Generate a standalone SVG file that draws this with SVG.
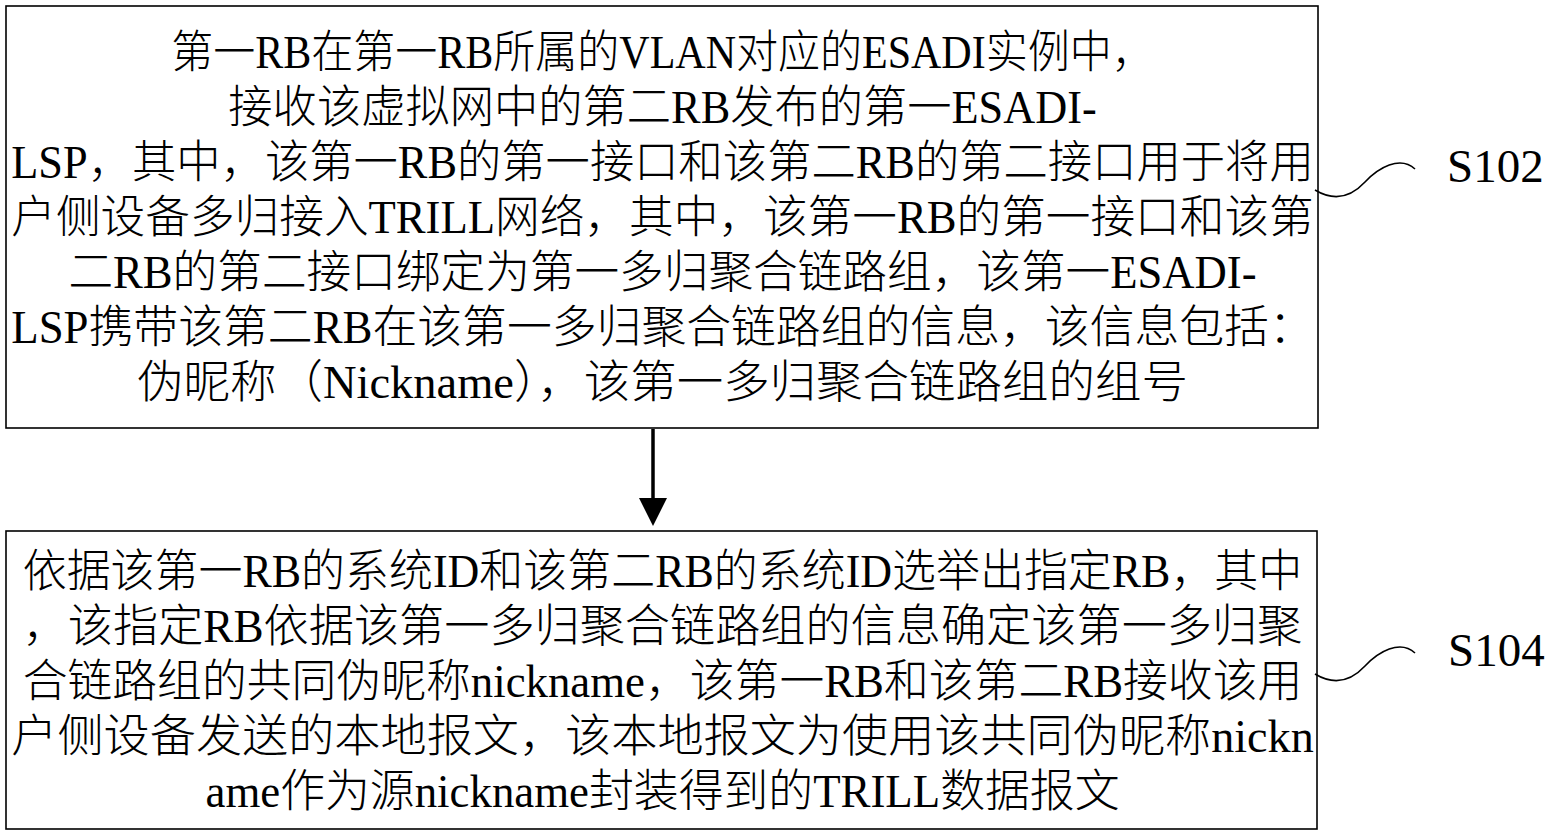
<svg xmlns="http://www.w3.org/2000/svg" width="1550" height="835" viewBox="0 0 1550 835">
<style>
.box{fill:#fff;stroke:#000;stroke-width:1.6}
.t{font-family:"Liberation Serif","Noto Sans CJK SC",serif;font-size:45.7px;font-weight:300;fill:#000}
.lbl{font-family:"Liberation Serif","Times New Roman",serif;font-size:47px;fill:#000}
.wave{fill:none;stroke:#000;stroke-width:1.6}
.arr{stroke:#000;stroke-width:3.5;fill:none}
</style>
<rect width="1550" height="835" fill="#fff"/>
<g id="node-s102-box">
<rect class="box" x="6" y="6" width="1312" height="422"/>
<text class="t" x="171.2" y="68.4" textLength="982.55" lengthAdjust="spacingAndGlyphs">第一RB在第一RB所属的VLAN对应的ESADI实例中，</text>
<text class="t" x="228.35" y="123.4" textLength="868.3" lengthAdjust="spacingAndGlyphs">接收该虚拟网中的第二RB发布的第一ESADI-</text>
<text class="t" x="11.3" y="178.4" textLength="1302.45" lengthAdjust="spacingAndGlyphs">LSP，其中，该第一RB的第一接口和该第二RB的第二接口用于将用</text>
<text class="t" x="11.3" y="233.4" textLength="1302.45" lengthAdjust="spacingAndGlyphs">户侧设备多归接入TRILL网络，其中，该第一RB的第一接口和该第</text>
<text class="t" x="68.4" y="288.4" textLength="1188.2" lengthAdjust="spacingAndGlyphs">二RB的第二接口绑定为第一多归聚合链路组，该第一ESADI-</text>
<text class="t" x="11.3" y="343.4" textLength="1302.45" lengthAdjust="spacingAndGlyphs">LSP携带该第二RB在该第一多归聚合链路组的信息，该信息包括：</text>
<text class="t" x="136.95" y="398.4" textLength="1051.1" lengthAdjust="spacingAndGlyphs">伪昵称（Nickname），该第一多归聚合链路组的组号</text>
</g>
<g id="node-s104-box">
<rect class="box" x="6" y="531" width="1311" height="298"/>
<text class="t" x="22.7" y="587.4" textLength="1279.6" lengthAdjust="spacingAndGlyphs">依据该第一RB的系统ID和该第二RB的系统ID选举出指定RB，其中</text>
<text class="t" x="22.7" y="642.4" textLength="1279.6" lengthAdjust="spacingAndGlyphs">，该指定RB依据该第一多归聚合链路组的信息确定该第一多归聚</text>
<text class="t" x="22.7" y="697.4" textLength="1279.6" lengthAdjust="spacingAndGlyphs">合链路组的共同伪昵称nickname，该第一RB和该第二RB接收该用</text>
<text class="t" x="11.3" y="752.4" textLength="1302.45" lengthAdjust="spacingAndGlyphs">户侧设备发送的本地报文，该本地报文为使用该共同伪昵称nickn</text>
<text class="t" x="205.5" y="807.4" textLength="914" lengthAdjust="spacingAndGlyphs">ame作为源nickname封装得到的TRILL数据报文</text>
</g>
<g id="node-s102-label">
<text class="lbl" x="1447" y="182">S102</text>
</g>
<g id="node-s104-label">
<text class="lbl" x="1448" y="666">S104</text>
</g>
<g id="connectors">
<line class="arr" x1="653" y1="429" x2="653" y2="500"/>
<polygon points="639,498 667,498 653,526" fill="#000"/>
<path class="wave" d="M1315,190 C1335,202 1352,196 1365,182 S1400,155 1415,169"/>
<path class="wave" d="M1315,674 C1335,686 1352,680 1365,666 S1400,639 1415,653"/>
</g>
</svg>
